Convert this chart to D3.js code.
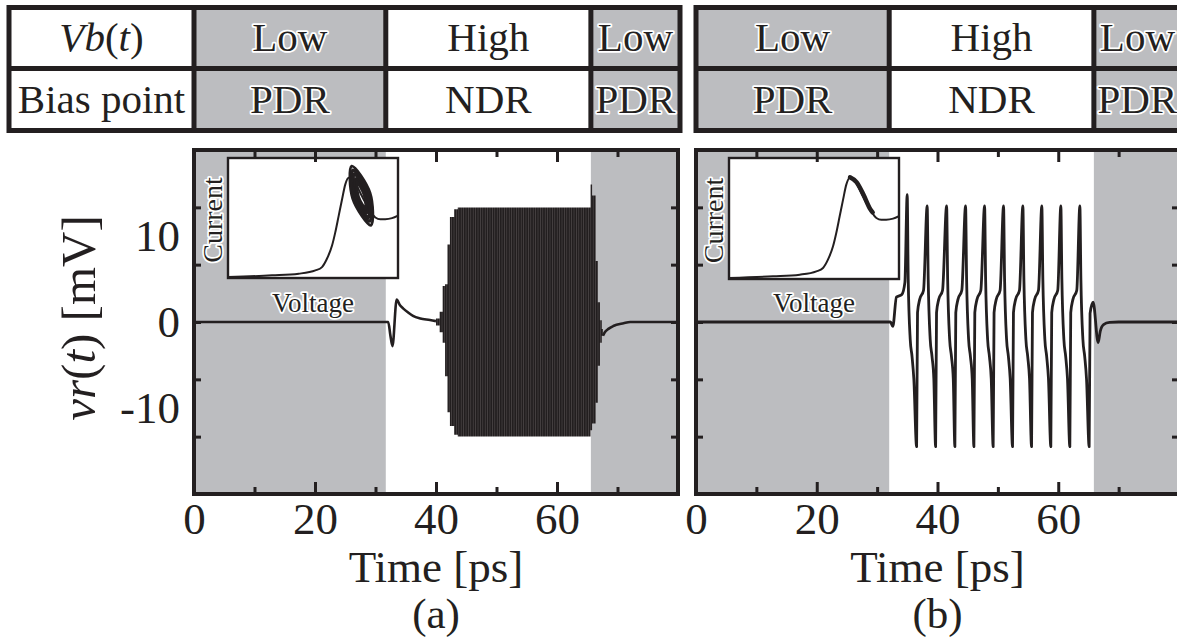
<!DOCTYPE html>
<html><head><meta charset="utf-8">
<script src="https://cdn.jsdelivr.net/npm/d3@7"></script>
<style>
html,body{margin:0;padding:0;background:#fff;}
svg{display:block;font-family:"Liberation Serif","Times New Roman",serif;}
</style></head><body>
<svg id="fig" width="1177" height="637"></svg>
<script>
// ---- axes ----
const timeDomain = [0, 80];              // ps
const voltDomain = [-20, 20];            // mV
const timeTicksMajor = [20, 40, 60];
const timeTicksMinor = [10, 30, 50, 70];
const timeLabels = [0, 20, 40, 60];
const voltTicks = [-13.33, -6.67, 0, 6.67, 13.33];
const voltLabels = [10, 0, -10];

// ---- bias schedule ----
const biasLevels = ["Low", "High", "Low"];
const biasPoints = ["PDR", "NDR", "PDR"];
const switchA = [31.7, 65.6];            // ps, panel (a)
const switchB = [32.0, 65.9];            // ps, panel (b)

// ---- panel (a): reflected voltage ----
// quiet trace before the oscillation builds up
const traceA1_t = [0, 32.1, 32.45, 32.8, 33.5, 34.05, 34.6, 35.4, 36.2, 37.4, 39.0, 40.0];
const traceA1_v = [0, 0, -1.5, -2.8, 2.6, 1.94, 1.56, 1.1, 0.7, 0.4, 0.23, 0.1];
// envelope of the fast oscillation (upper / lower), step-wise
const envA_t  = [40.0, 40.6, 41.1, 41.5, 41.9, 42.3, 43.0, 43.6, 65.55, 65.8, 66.4, 66.75, 67.1, 67.4, 67.6];
const envA_hi = [0.4, 1.2, 4.2, 4.4, 9.0, 12.2, 13.1, 13.3, 16.0, 14.7, 7.1, 2.3, 0.2, -0.8, -0.8];
const envA_lo = [-0.4, -1.2, -2.4, -6.3, -10.5, -12.1, -13.1, -13.3, -12.6, -11.8, -9.4, -5.1, -2.4, -1.6, -1.6];
// relaxation back to zero
const traceA2_t = [67.6, 67.9, 68.5, 69.3, 71.0, 72.1, 80];
const traceA2_v = [-1.6, -1.2, -0.8, -0.47, -0.15, 0, 0];

// ---- panel (b): reflected voltage ----
const traceB_t = [0, 32.2, 32.6, 33.2, 34.1, 34.6, 34.98,
  35.15, 35.48, 35.78, 36.08, 36.54, 36.69, 37.04, 37.69,
  38.29, 38.46, 38.79, 39.09, 39.39, 39.69, 39.84, 40.19, 40.84,
  41.51, 41.68, 42.01, 42.31, 42.61, 42.88, 43.03, 43.38, 44.03,
  44.65, 44.82, 45.15, 45.45, 45.75, 46.03, 46.18, 46.53, 47.18,
  47.80, 47.97, 48.30, 48.60, 48.90, 49.22, 49.37, 49.72, 50.37,
  50.94, 51.11, 51.44, 51.74, 52.04, 52.43, 52.58, 52.93, 53.58,
  54.14, 54.31, 54.64, 54.94, 55.24, 55.58, 55.73, 56.08, 56.73,
  57.28, 57.45, 57.78, 58.08, 58.38, 58.77, 58.92, 59.27, 59.92,
  60.43, 60.60, 60.93, 61.23, 61.53, 61.92, 62.07, 62.42, 63.07,
  63.58, 63.75, 64.08, 64.38, 64.68, 65.12, 65.27, 65.78, 66.61, 66.95, 67.5, 68.5, 70, 80];
const traceB_v = [0, 0, -0.5, 2.9, 3.2, 4.6, 14.8,
  5.0, -2.0, -4.0, -6.6, -14.5, 1.1, 2.6, 3.7,
  13.5, 5.0, -2.0, -4.0, -6.6, -14.5, 1.1, 2.6, 3.7,
  13.5, 5.0, -2.0, -4.0, -6.6, -14.5, 1.1, 2.6, 3.7,
  13.5, 5.0, -2.0, -4.0, -6.6, -14.5, 1.1, 2.6, 3.7,
  13.5, 5.0, -2.0, -4.0, -6.6, -14.5, 1.1, 2.6, 3.7,
  13.5, 5.0, -2.0, -4.0, -6.6, -14.5, 1.1, 2.6, 3.7,
  13.5, 5.0, -2.0, -4.0, -6.6, -14.5, 1.1, 2.6, 3.7,
  13.5, 5.0, -2.0, -4.0, -6.6, -14.5, 1.1, 2.6, 3.7,
  13.5, 5.0, -2.0, -4.0, -6.6, -14.5, 1.1, 2.6, 3.7,
  13.5, 5.0, -2.0, -4.0, -6.6, -14.5, 1.0, 2.3, -2.4, -1.1, -0.3, -0.05, 0, 0];

// ---- inset: normalised I-V characteristic ----
const ivVolt = [0, 0.259, 0.416, 0.514, 0.553, 0.582, 0.612, 0.631, 0.651, 0.671, 0.690, 0.710, 0.729, 0.749, 0.778, 0.808, 0.837, 0.867, 0.896, 0.925, 0.965, 1.0];
const ivCurr = [0.008, 0.022, 0.036, 0.063, 0.091, 0.160, 0.270, 0.380, 0.518, 0.656, 0.780, 0.835, 0.835, 0.793, 0.711, 0.628, 0.559, 0.504, 0.490, 0.490, 0.499, 0.52];
// (a) limit-cycle loops around the NDR region: [voltage, current] extremes of each loop
const loopsA = [
  [[0.728, 0.932], [0.835, 0.709], [0.841, 0.440], [0.734, 0.663]],
  [[0.735, 0.900], [0.824, 0.704], [0.834, 0.472], [0.745, 0.668]],
  [[0.742, 0.868], [0.815, 0.700], [0.826, 0.503], [0.754, 0.672]],
  [[0.751, 0.828], [0.806, 0.696], [0.817, 0.543], [0.762, 0.676]],
  [[0.759, 0.797], [0.801, 0.694], [0.810, 0.575], [0.767, 0.678]]
];
// (b) trajectory sliding along the NDR branch
const trajB_v = [0.712, 0.75, 0.79, 0.83, 0.845];
const trajB_i = [0.84, 0.80, 0.70, 0.58, 0.55];

// ---- styling ----
const INK = "#231f20", GRAY = "#bcbdc0";
const svg = d3.select("#fig");
const defs = svg.append("defs");
defs.append("pattern").attr("id", "stripes").attr("patternUnits", "userSpaceOnUse")
  .attr("width", 2.4).attr("height", 10)
  .call(p => {
    p.append("rect").attr("width", 2.4).attr("height", 10).attr("fill", "#221e1f");
    p.append("rect").attr("width", 0.5).attr("height", 10).attr("fill", "#5e595a");
  });

const zip = (a, b) => a.map((d, i) => [d, b[i]]);
const halo = sel => sel.attr("stroke", "#fff").attr("stroke-width", 3.5)
  .attr("stroke-linejoin", "round").attr("paint-order", "stroke");

const TOP = 150, BOT = 494;
const y = d3.scaleLinear().domain(voltDomain).range([BOT, TOP]);
const TABLE_FS = 41;

function drawTable(x, switches, withHeader) {
  const t0 = 7.5, t1 = 68.5, t2 = 130.5;
  const left = withHeader ? 9 : x(0);
  const right = x(timeDomain[1]) + 2;
  const cols = [x(0), x(switches[0]), x(switches[1]), right];
  const g = svg.append("g");
  [0, 2].forEach(k => g.append("rect").attr("x", cols[k]).attr("y", t0)
    .attr("width", cols[k + 1] - cols[k]).attr("height", t2 - t0).attr("fill", GRAY));
  g.append("rect").attr("x", left).attr("y", t0).attr("width", right - left).attr("height", t2 - t0)
    .attr("fill", "none").attr("stroke", INK).attr("stroke-width", 5);
  g.append("line").attr("x1", left).attr("x2", right).attr("y1", t1).attr("y2", t1)
    .attr("stroke", INK).attr("stroke-width", 5);
  cols.slice(withHeader ? 0 : 1, 3).forEach(cx => g.append("line").attr("x1", cx).attr("x2", cx)
    .attr("y1", t0).attr("y2", t2).attr("stroke", INK).attr("stroke-width", 5));
  const rows = [[biasLevels, 51], [biasPoints, 113]];
  rows.forEach(([labels, base]) => labels.forEach((s, k) => {
    const tx = g.append("text").attr("x", (cols[k] + cols[k + 1]) / 2).attr("y", base)
      .attr("text-anchor", "middle").attr("font-size", TABLE_FS).attr("fill", INK).text(s);
    if (k !== 1) halo(tx);
  }));
  if (withHeader) {
    const cx = (left + cols[0]) / 2;
    const h = g.append("text").attr("x", cx).attr("y", 51).attr("text-anchor", "middle")
      .attr("font-size", TABLE_FS).attr("fill", INK);
    h.append("tspan").attr("font-style", "italic").text("V");
    h.append("tspan").attr("font-style", "italic").text("b");
    h.append("tspan").text("(");
    h.append("tspan").attr("font-style", "italic").text("t");
    h.append("tspan").text(")");
    g.append("text").attr("x", cx).attr("y", 113).attr("text-anchor", "middle")
      .attr("font-size", TABLE_FS).attr("fill", INK).text("Bias point");
  }
}

function drawInset(box, extra) {
  const iv = d3.scaleLinear().domain([0, 1]).range([box.x0, box.x1]);
  const ii = d3.scaleLinear().domain([0, 1]).range([box.y1, box.y0]);
  const g = svg.append("g");
  g.append("rect").attr("x", box.x0).attr("y", box.y0).attr("width", box.x1 - box.x0)
    .attr("height", box.y1 - box.y0).attr("fill", "#fff").attr("stroke", INK).attr("stroke-width", 2.4);
  const line = d3.line().x(d => iv(d[0])).y(d => ii(d[1])).curve(d3.curveMonotoneX);
  g.append("path").attr("d", line(zip(ivVolt, ivCurr))).attr("fill", "none")
    .attr("stroke", INK).attr("stroke-width", 2);
  extra(g, iv, ii);
  halo(g.append("text").attr("x", (box.x0 + box.x1) / 2).attr("y", 312).attr("text-anchor", "middle")
    .attr("font-size", 27).attr("fill", INK).text("Voltage"));
  halo(g.append("text").attr("transform", `translate(${box.x0 - 6},${(box.y0 + box.y1) / 2 + 2}) rotate(-90)`)
    .attr("text-anchor", "middle").attr("font-size", 28).attr("fill", INK).text("Current"));
}

function drawPanel(x, switches, letter) {
  const L = x(timeDomain[0]), R = x(timeDomain[1]);
  const clipId = "clip" + letter;
  defs.append("clipPath").attr("id", clipId).append("rect")
    .attr("x", L).attr("y", TOP).attr("width", R - L).attr("height", BOT - TOP);
  const g = svg.append("g").attr("clip-path", `url(#${clipId})`);
  g.append("rect").attr("x", L).attr("y", TOP).attr("width", x(switches[0]) - L)
    .attr("height", BOT - TOP).attr("fill", GRAY);
  g.append("rect").attr("x", x(switches[1])).attr("y", TOP).attr("width", R - x(switches[1]))
    .attr("height", BOT - TOP).attr("fill", GRAY);
  return g;
}

function drawFrame(x, letter, yLabels) {
  const L = x(timeDomain[0]), R = x(timeDomain[1]);
  const g = svg.append("g");
  const tickStyle = a => a.call(s => s.select(".domain").remove())
    .call(s => s.selectAll("line").attr("stroke", INK).attr("stroke-width", 3));
  g.append("g").attr("transform", `translate(0,${BOT})`)
    .call(d3.axisBottom(x).tickValues(timeTicksMajor).tickSize(-12).tickFormat("")).call(tickStyle);
  g.append("g").attr("transform", `translate(0,${BOT})`)
    .call(d3.axisBottom(x).tickValues(timeTicksMinor).tickSize(-7).tickFormat("")).call(tickStyle);
  g.append("g").attr("transform", `translate(0,${TOP})`)
    .call(d3.axisTop(x).tickValues(timeTicksMajor).tickSize(-12).tickFormat("")).call(tickStyle);
  g.append("g").attr("transform", `translate(0,${TOP})`)
    .call(d3.axisTop(x).tickValues(timeTicksMinor).tickSize(-7).tickFormat("")).call(tickStyle);
  g.append("g").attr("transform", `translate(${L},0)`)
    .call(d3.axisLeft(y).tickValues(voltTicks).tickSize(-7).tickFormat("")).call(tickStyle);
  g.append("g").attr("transform", `translate(${R},0)`)
    .call(d3.axisRight(y).tickValues(voltTicks).tickSize(-7).tickFormat("")).call(tickStyle);
  g.append("rect").attr("x", L).attr("y", TOP).attr("width", R - L).attr("height", BOT - TOP)
    .attr("fill", "none").attr("stroke", INK).attr("stroke-width", 4);

  // tick labels, set in the figure's serif face
  const lab = g.append("g").attr("transform", `translate(0,${BOT})`)
    .call(d3.axisBottom(x).tickValues(timeLabels).tickSize(0).tickPadding(8).tickFormat(d => String(d)));
  lab.attr("font-family", null).attr("font-size", null);
  lab.select(".domain").remove();
  lab.selectAll("text").attr("font-size", 45).attr("fill", INK);
  if (yLabels) {
    const yl = g.append("g").attr("transform", `translate(${L},0)`)
      .call(d3.axisLeft(y).tickValues(voltLabels).tickSize(0).tickPadding(14).tickFormat(d => String(d)));
    yl.attr("font-family", null).attr("font-size", null);
    yl.select(".domain").remove();
    yl.selectAll("text").attr("font-size", 45).attr("fill", INK);
    const t = g.append("text").attr("transform", `translate(95,${(TOP + BOT) / 2 - 4}) rotate(-90)`)
      .attr("text-anchor", "middle").attr("font-size", 49).attr("fill", INK);
    t.append("tspan").attr("font-style", "italic").text("vr");
    t.append("tspan").text("(");
    t.append("tspan").attr("font-style", "italic").text("t");
    t.append("tspan").text(") [mV]");
  }
  g.append("text").attr("x", (L + R) / 2).attr("y", 582).attr("text-anchor", "middle")
    .attr("font-size", 45).attr("fill", INK).text("Time [ps]");
  g.append("text").attr("x", (L + R) / 2).attr("y", 628).attr("text-anchor", "middle")
    .attr("font-size", 43).attr("fill", INK).text(`(${letter})`);
}

// ---------------- panel (a) ----------------
const xA = d3.scaleLinear().domain(timeDomain).range([194, 678]);
drawTable(xA, switchA, true);
const gA = drawPanel(xA, switchA, "a");
const lineA = sc => d3.line().x(d => sc(d[0])).y(d => y(d[1])).curve(d3.curveMonotoneX);
gA.append("path").attr("d", lineA(xA)(zip(traceA1_t, traceA1_v)))
  .attr("fill", "none").attr("stroke", INK).attr("stroke-width", 2.6);
gA.append("path").attr("d", d3.area().x(d => xA(d[0])).y0(d => y(d[2])).y1(d => y(d[1]))
    .curve(d3.curveStepAfter)(envA_t.map((t, i) => [t, envA_hi[i], envA_lo[i]])))
  .attr("fill", "url(#stripes)");
gA.append("path").attr("d", lineA(xA)(zip(traceA2_t, traceA2_v)))
  .attr("fill", "none").attr("stroke", INK).attr("stroke-width", 2.6);
drawInset({x0: 228, x1: 398, y0: 158, y1: 278}, (g, iv, ii) => {
  const loop = d3.line().x(d => iv(d[0])).y(d => ii(d[1])).curve(d3.curveCatmullRomClosed.alpha(0.5));
  loopsA.forEach(l => g.append("path").attr("d", loop(l)).attr("fill", "none")
    .attr("stroke", INK).attr("stroke-width", 3));
});
drawFrame(xA, "a", true);

// ---------------- panel (b) ----------------
const xB = d3.scaleLinear().domain(timeDomain).range([696, 1179]);
drawTable(xB, switchB, false);
const gB = drawPanel(xB, switchB, "b");
gB.append("path").attr("d", lineA(xB)(zip(traceB_t, traceB_v)))
  .attr("fill", "none").attr("stroke", INK).attr("stroke-width", 2.8).attr("stroke-linejoin", "round");
drawInset({x0: 729, x1: 899, y0: 158, y1: 279}, (g, iv, ii) => {
  g.append("path").attr("d", d3.line().x(d => iv(d[0])).y(d => ii(d[1])).curve(d3.curveMonotoneX)(zip(trajB_v, trajB_i)))
    .attr("fill", "none").attr("stroke", INK).attr("stroke-width", 4.5).attr("stroke-linecap", "round");
});
drawFrame(xB, "b", false);
</script>
</body></html>
